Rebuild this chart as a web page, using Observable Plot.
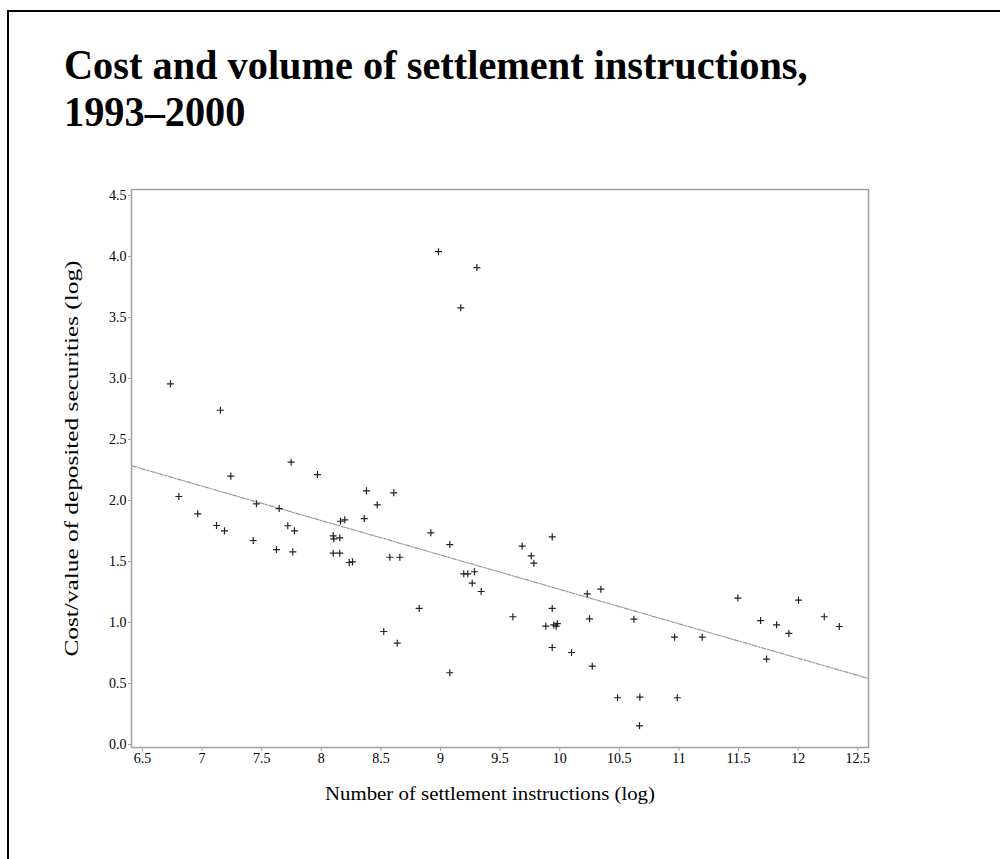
<!DOCTYPE html>
<html>
<head>
<meta charset="utf-8">
<script src="https://cdn.jsdelivr.net/npm/d3@7"></script>
<script src="https://cdn.jsdelivr.net/npm/@observablehq/plot@0.6"></script>
<style>
  html, body { margin: 0; padding: 0; background: #fff; }
  #page { position: relative; width: 1000px; height: 859px; overflow: hidden; }
  #border { position: absolute; left: 7px; top: 10px; width: 1000px; height: 860px; z-index: 5;
            border-left: 2px solid #000; border-top: 2px solid #000; box-sizing: border-box; pointer-events: none; }
  #title { position: absolute; left: 64px; top: 42px; font-family: "Liberation Serif", serif;
           font-weight: bold; font-size: 42px; line-height: 47px; color: #000;
           transform-origin: 0 0; transform: scaleX(0.96); white-space: nowrap; }
  #chart { position: absolute; left: 0; top: 150px; }
</style>
</head>
<body>
<div id="page">
  <div id="border"></div>
  <div id="title">Cost and volume of settlement instructions,<br>1993–2000</div>
  <div id="chart"></div>
</div>
<script>
// Number of settlement instructions (log)
const instructions = [
  8.983, 9.305, 9.17, 6.735, 7.154, 7.747, 7.241, 7.968, 6.805, 8.379,
  8.608, 7.456, 8.469, 6.964, 7.647, 7.121, 7.188, 7.719, 7.775, 8.36,
  8.197, 8.161, 8.10, 8.105, 8.155, 7.429, 7.624, 7.761, 8.10, 8.155,
  8.234, 8.262, 8.575, 8.659, 8.919, 9.078, 9.195, 9.229, 9.285, 9.266,
  9.341, 8.821, 8.524, 8.637, 9.078, 9.937, 9.685, 9.761, 9.783, 10.345,
  10.231, 9.937, 9.607, 9.883, 9.95, 9.97, 9.98, 10.25, 10.622, 9.937,
  10.099, 10.273, 10.485, 10.672, 10.986, 10.669, 10.963, 11.195, 11.494, 11.685,
  11.819, 11.922, 11.735, 12.003, 12.219, 12.345
];
// Cost/value of deposited securities (log)
const costValue = [
  4.04, 3.91, 3.58, 2.957, 2.74, 2.314, 2.20, 2.213, 2.033, 2.079,
  2.063, 1.973, 1.965, 1.891, 1.934, 1.795, 1.751, 1.793, 1.751, 1.852,
  1.842, 1.83, 1.71, 1.686, 1.694, 1.672, 1.598, 1.579, 1.568, 1.568,
  1.492, 1.497, 1.535, 1.535, 1.735, 1.639, 1.399, 1.399, 1.416, 1.322,
  1.254, 1.115, 0.926, 0.83, 0.588, 1.702, 1.626, 1.546, 1.486, 1.273,
  1.235, 1.115, 1.047, 0.97, 0.98, 0.97, 0.99, 1.03, 1.027, 0.795,
  0.754, 0.642, 0.383, 0.388, 0.383, 0.153, 0.88, 0.88, 1.20, 1.016,
  0.981, 0.91, 0.70, 1.183, 1.047, 0.967
];
const xTicks = [6.5, 7, 7.5, 8, 8.5, 9, 9.5, 10, 10.5, 11, 11.5, 12, 12.5];
const yTicks = [0, 0.5, 1, 1.5, 2, 2.5, 3, 3.5, 4, 4.5];

const data = instructions.map((x, i) => ({x, y: costValue[i]}));

// least-squares fit, drawn across the full x range of the frame
const xDomain = [6.408, 12.59];
const mx = d3.mean(instructions), my = d3.mean(costValue);
const slope = d3.sum(data, d => (d.x - mx) * (d.y - my)) / d3.sum(data, d => (d.x - mx) ** 2);
const intercept = my - slope * mx;
const fit = xDomain.map(x => ({x, y: intercept + slope * x}));

const serif = "Liberation Serif, Times New Roman, serif";
const chart = Plot.plot({
  width: 1000,
  height: 680,
  marginLeft: 131,
  marginRight: 132,
  marginTop: 39,
  marginBottom: 83,
  style: {fontFamily: serif, fontSize: "14px", color: "#000", background: "transparent"},
  x: {domain: xDomain},
  y: {domain: [-0.025, 4.55]},
  marks: [
    Plot.frame({stroke: "#a0a0a0", strokeWidth: 1.5}),
    Plot.axisX({ticks: xTicks, tickSize: 4, tickPadding: 2, stroke: "#a0a0a0",
      tickFormat: d => String(d),
      label: "Number of settlement instructions (log)", labelAnchor: "center",
      labelArrow: "none", labelOffset: 52, fontSize: 14}),
    Plot.axisY({ticks: yTicks, tickSize: 3, tickPadding: 2, stroke: "#a0a0a0",
      tickFormat: d3.format(".1f"),
      label: "Cost/value of deposited securities (log)", labelAnchor: "center",
      labelOffset: 66, labelArrow: "none", fontSize: 14}),
    Plot.line(fit, {x: "x", y: "y", stroke: "#999",
      strokeWidth: 1.2, strokeDasharray: "5,1.5,1.5,1.5"}),
    Plot.dot(data, {x: "x", y: "y", symbol: "plus", r: 2.4, stroke: "#222", strokeWidth: 1.2})
  ]
});
document.getElementById("chart").appendChild(chart);
// axis titles: larger, stretched like the reference
chart.querySelectorAll("g[aria-label='x-axis label'] text").forEach(t => {
  t.setAttribute("font-size", "19px");
  t.setAttribute("textLength", "330");
  t.setAttribute("lengthAdjust", "spacingAndGlyphs");
  t.setAttribute("dx", "-10");
});
chart.querySelectorAll("g[aria-label='y-axis label'] text").forEach(t => {
  t.setAttribute("font-size", "18px");
  t.setAttribute("textLength", "396");
  t.setAttribute("lengthAdjust", "spacingAndGlyphs");
  t.setAttribute("dx", "10");
});
</script>
</body>
</html>
